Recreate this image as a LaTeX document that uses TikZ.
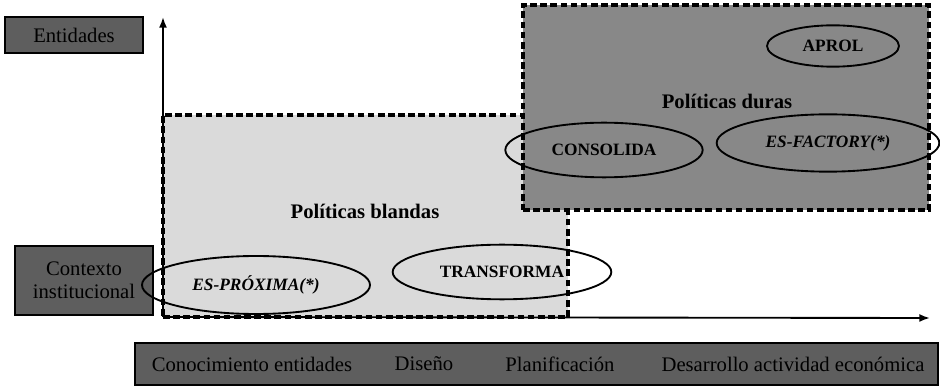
\documentclass[tikz,border=0pt]{standalone}
\usepackage{fontspec}
\setmainfont{Liberation Serif}
\usepackage{xcolor}
\usetikzlibrary{shapes.geometric,positioning,arrows,arrows.meta}

\definecolor{labelgray}{HTML}{5E5E5E}
\definecolor{hardgray}{HTML}{888888}
\definecolor{softgray}{HTML}{DADADA}

\begin{document}
\begin{tikzpicture}[
		x=0.75pt,y=-0.75pt,
		>={Latex[length=8pt,width=6pt]},
		thick,
		axisbox/.style={
			draw=black,
			line width=1.3pt,
			fill=labelgray,
			rectangle,
			inner sep=0pt,
			align=center,
			font=\fontsize{15.5}{17}\selectfont
		},
		zone/.style={
			draw=black,
			line width=2.4pt,
			dash pattern=on 5pt off 2.6pt,
			rectangle,
			inner sep=0pt
		},
		project/.style={
			draw=black,
			line width=1.4pt,
			ellipse,
			inner sep=0pt,
			font=\fontsize{13}{14}\selectfont\bfseries
		},
		zonelabel/.style={font=\fontsize{15.5}{17}\selectfont\bfseries},
		stage/.style={font=\fontsize{15.5}{17}\selectfont}
		]
		\useasboundingbox (0,0) rectangle (940,388);
		
		% Policy zones
		\node[zone, fill=softgray, minimum width=303.75pt, minimum height=151.5pt] (soft) at (365.5,216) {};
		\node[zone, fill=hardgray, minimum width=304.5pt, minimum height=153.75pt] (hard) at (726,107.5) {};
		\node[zonelabel] (softlbl) at (365,211) {Políticas blandas};
		\node[zonelabel] (hardlbl) at (727,101) {Políticas duras};
		
		% Axes
		\coordinate (origin) at (163,317);
		\coordinate (ytip) at (163,17);
		\coordinate (xtip) at (930,318);
		\draw[->, line width=1.4pt] (origin) -- (ytip);
		\draw[->, line width=1.4pt] (origin) -- (xtip);
		
		% Axis labels
		\node[axisbox, minimum width=103.5pt, minimum height=27pt] (entidades) at (74,35) {Entidades};
		\node[axisbox, minimum width=103.5pt, minimum height=52pt] (contexto) at (84,280.5) {Contexto\\institucional};
		\node[axisbox, minimum width=602pt, minimum height=31.5pt] (stages) at (536.5,364) {};
		\node[stage] (conocimiento) at (252,364) {Conocimiento entidades};
		\node[stage] (diseno) at (424,364) {Diseño};
		\node[stage] (planificacion) at (560,364) {Planificación};
		\node[stage] (desarrollo) at (793,364) {Desarrollo actividad económica};
		
		% Programmes
		\node[project, minimum width=99pt, minimum height=31pt] (aprol) at (833,46) {APROL};
		\node[project, minimum width=148pt, minimum height=41pt] (consolida) at (604,150) {CONSOLIDA};
		\node[project, minimum width=167pt, minimum height=43pt] (factory) at (828,143) {\itshape ES-FACTORY(*)};
		\node[project, minimum width=164pt, minimum height=41pt] (transforma) at (502,272) {TRANSFORMA};
		\node[project, minimum width=171pt, minimum height=43.5pt] (proxima) at (256,285) {\itshape ES-PRÓXIMA(*)};
	\end{tikzpicture}
\end{document}
